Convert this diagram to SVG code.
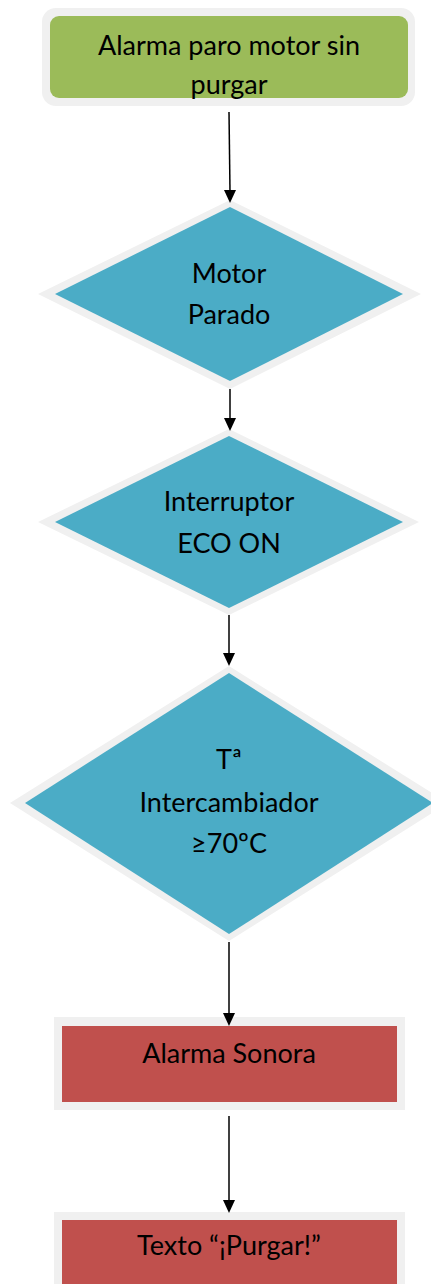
<svg xmlns="http://www.w3.org/2000/svg" width="431" height="1284" viewBox="0 0 431 1284">
<defs>
<style>
.t{font-family:Lato,"Noto Sans",sans-serif;font-size:27px;fill:#000;text-anchor:middle}
.brd{fill:#F0F0F0}
.g{fill:#9BBB59}
.b{fill:#4BACC6}
.r{fill:#C0504D}
.c{stroke:#000;stroke-width:1.5;fill:none}
.ah{fill:#000}
</style>
</defs>
<rect width="431" height="1284" fill="#fff"/>
<g id="start">
<rect class="brd" x="42" y="8" width="373" height="98" rx="14"/>
<rect class="g" x="50" y="16" width="358" height="82" rx="9"/>
<text class="t" x="229" y="55">Alarma paro motor sin</text>
<text class="t" x="229" y="94">purgar</text>
</g>
<g id="motor-parado">
<polygon class="brd" points="230,200 421,294 230,389 38,294"/>
<polygon class="b" points="230,207 403,294 230,381 55,294"/>
<text class="t" x="229" y="283">Motor</text>
<text class="t" x="229" y="324">Parado</text>
</g>
<g id="interruptor">
<polygon class="brd" points="229,429 419,522 229,615 38,522"/>
<polygon class="b" points="229,436 403,522 229,608 55,522"/>
<text class="t" x="229" y="511">Interruptor</text>
<text class="t" x="229" y="553">ECO ON</text>
</g>
<g id="temperatura">
<polygon class="brd" points="229,666 448,803 229,941 10,803"/>
<polygon class="b" points="229,673 433,803 229,934 25,803"/>
<text class="t" x="229" y="769">Tª</text>
<text class="t" x="229" y="812">Intercambiador</text>
<text class="t" x="229" y="853">≥70ºC</text>
</g>
<g id="alarma-sonora">
<rect class="brd" x="54" y="1017" width="351" height="93"/>
<rect class="r" x="62" y="1026" width="335" height="76"/>
<text class="t" x="229" y="1063">Alarma Sonora</text>
</g>
<g id="texto-purgar">
<rect class="brd" x="54" y="1212" width="351" height="80"/>
<rect class="r" x="62" y="1220" width="335" height="70"/>
<text class="t" x="229" y="1255">Texto “¡Purgar!”</text>
</g>
<g id="connectors">
<path class="c" d="M229,112 L230,192"/>
<path class="ah" d="M224,190 L236,190 L230,203 Z"/>
<path class="c" d="M230,389 L230,420"/>
<path class="ah" d="M224,418 L236,418 L230,431 Z"/>
<path class="c" d="M229,615 L229,655"/>
<path class="ah" d="M223,653 L235,653 L229,666 Z"/>
<path class="c" d="M229,942 L229,1015"/>
<path class="ah" d="M223,1013 L235,1013 L229,1026 Z"/>
<path class="c" d="M229,1116 L229,1202"/>
<path class="ah" d="M223,1200 L235,1200 L229,1213 Z"/>
</g>
</svg>
